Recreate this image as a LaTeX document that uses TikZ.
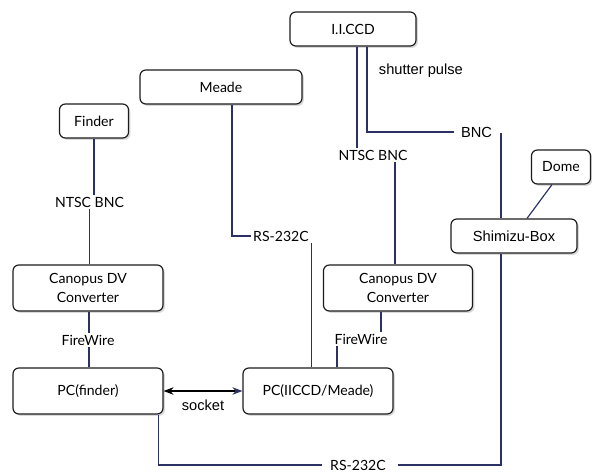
\documentclass[tikz,border=0pt]{standalone}
\usepackage{fontspec}
\setmainfont{Lato}
\newfontfamily\helvfont{Liberation Sans}
\usetikzlibrary{arrows.meta,positioning,shadows,calc}
\definecolor{WireNavy}{HTML}{2B3263}
\definecolor{BoxEdge}{HTML}{1C1C1C}
\tikzset{
  devbox/.style={rounded corners=5pt, draw=BoxEdge, fill=white, line width=1pt, align=center, inner sep=2pt, minimum height=1.02cm, drop shadow={shadow xshift=1.6pt, shadow yshift=-1.6pt, opacity=0.3}},
  tallbox/.style={devbox, minimum width=4.5cm, minimum height=1.38cm},
  tag/.style={inner sep=1.5pt},
  helv/.style={font=\helvfont\fontsize{12.5}{15}\selectfont},
  wire/.style={draw=WireNavy, line width=1pt}
}

\begin{document}
\begin{tikzpicture}[x=0.03cm, y=-0.03cm, font=\fontsize{12}{16}\selectfont]
    \useasboundingbox (0,0) rectangle (592,474);
    % devices
    \node[devbox, minimum width=3.78cm] (iiccd) at (353,29) {I.I.CCD};
    \node[devbox, minimum width=4.86cm] (meade) at (221,87) {Meade};
    \node[devbox, minimum width=2.07cm] (finder) at (94,121) {Finder};
    \node[devbox, minimum width=1.77cm] (dome) at (561,167) {Dome};
    \node[devbox, minimum width=3.78cm, helv] (shimizu) at (514,236) {Shimizu-Box};
    \node[tallbox] (canL) at (88,288) {Canopus DV\\Converter};
    \node[tallbox, minimum width=4.47cm] (canR) at (398,288) {Canopus DV\\Converter};
    \node[tallbox] (pcF) at (88,391) {PC(finder)};
    \node[tallbox] (pcM) at (318,391) {PC(IICCD/Meade)};

    % cable labels
    \node[tag] (ntscL) at (89.5,202) {NTSC BNC};
    \node[tag] (fwL) at (88,340) {FireWire};
    \node[tag] (rsMeade) at (281,236) {RS-232C};
    \node[tag] (ntscR) at (373,155) {NTSC BNC};
    \node[tag, anchor=west, helv] (shutter) at (377,71) {shutter pulse};
    \node[tag, helv] (bncR) at (476.5,132) {BNC};
    \node[tag] (fwR) at (361,339) {FireWire};
    \node[tag] (rsBottom) at (358,465) {RS-232C};
    \node[tag, helv] (socket) at (203,405) {socket};
    \coordinate (bncDrop) at (501,133);

    % finder chain
    \draw[wire] (finder.south) -- (finder.south |- ntscL.north);
    \draw[wire] (ntscL.south) -- (ntscL.south |- canL.north);
    \draw[wire] ([xshift=0.03cm]canL.south) -- ([xshift=0.03cm]canL.south |- fwL.north);
    \draw[wire] ([xshift=0.03cm]fwL.south) -- ([xshift=0.03cm]fwL.south |- pcF.north);

    % mount
    \draw[wire] ([xshift=0.33cm]meade.south) |- (rsMeade.west);
    \draw[wire] ([xshift=0.03cm]rsMeade.south east) -- ([xshift=0.03cm]rsMeade.south east |- pcM.north);

    % camera chain
    \draw[wire] ([xshift=0.12cm]iiccd.south) -- ([xshift=0.12cm]iiccd.south |- ntscR.north);
    \draw[wire] ([xshift=0.66cm]ntscR.south) -- ([xshift=0.66cm]ntscR.south |- canR.north);
    \draw[wire] ([xshift=-0.51cm]canR.south) -- ([xshift=-0.51cm]canR.south |- fwR.north);
    \draw[wire] ([xshift=-0.72cm]fwR.south) -- ([xshift=-0.72cm]fwR.south |- pcM.north);

    % shutter and dome
    \draw[wire] ([xshift=0.42cm]iiccd.south) |- ([xshift=-0.15cm]bncR.west);
    \draw[wire] (bncDrop) -- (bncDrop |- shimizu.north);
    \draw[wire] ([xshift=-0.27cm]dome.south) -- ([xshift=0.39cm]shimizu.north);
    \draw[wire] ([xshift=-0.39cm]shimizu.south) |- ([xshift=0.3cm]rsBottom.east);
    \draw[wire] ([xshift=-0.2cm]rsBottom.west) -| ([xshift=-0.15cm]pcF.south east);

    % link between PCs
    \draw[line width=0.9pt, {Stealth[length=3mm, color=black]}-{Stealth[length=3mm, color=WireNavy]}] (pcF.east) -- (pcM.west);
  \end{tikzpicture}
\end{document}
